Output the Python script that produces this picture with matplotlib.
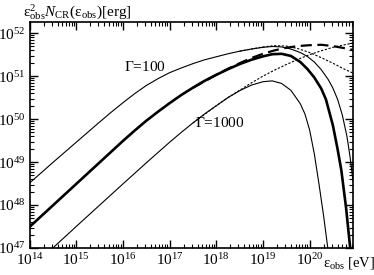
import numpy as np
import matplotlib
matplotlib.use("Agg")
import matplotlib.pyplot as plt
from matplotlib.ticker import LogLocator, NullFormatter

plt.rcParams['font.family'] = ['Liberation Serif', 'DejaVu Serif']
plt.rcParams['mathtext.fontset'] = 'custom'
plt.rcParams['mathtext.rm'] = 'Liberation Serif'
plt.rcParams['mathtext.it'] = 'Liberation Serif:italic'

# log10 of energy [eV] and log10 of eps^2 N [erg]
# Gamma=100, with cutoff (thin solid)
lx_g100 = [14.0, 14.5, 15.0, 15.5, 15.75, 16.0, 16.25, 16.5, 16.75, 17.0, 17.25, 17.5,
           17.75, 18.0, 18.25, 18.5, 18.75, 19.0, 19.2, 19.4, 19.6, 19.8, 19.95, 20.1,
           20.25, 20.4, 20.5, 20.6, 20.7, 20.8, 20.87, 20.93]
ly_g100 = [48.51, 48.99, 49.46, 49.93, 50.16, 50.38, 50.59, 50.78, 50.94, 51.08, 51.19, 51.29,
           51.38, 51.45, 51.52, 51.58, 51.63, 51.67, 51.69, 51.68, 51.63, 51.55, 51.46, 51.33,
           51.15, 50.92, 50.72, 50.46, 50.10, 49.60, 49.10, 48.55]
# middle case, with cutoff (thick solid)
lx_mid = [14.0, 15.0, 16.0, 16.25, 16.5, 16.75, 17.0, 17.25, 17.5, 17.75, 18.0, 18.25,
          18.5, 18.75, 19.0, 19.2, 19.4, 19.6, 19.8, 19.95, 20.1, 20.25, 20.35, 20.5,
          20.6, 20.68, 20.78, 20.87, 20.9]
ly_mid = [47.49, 48.49, 49.49, 49.73, 49.96, 50.17, 50.37, 50.56, 50.73, 50.89, 51.03, 51.16,
          51.28, 51.38, 51.46, 51.51, 51.52, 51.47, 51.33, 51.17, 50.97, 50.71, 50.46, 49.85,
          49.30, 48.81, 47.95, 47.00, 46.70]
# Gamma=1000, with cutoff (thin solid)
lx_g1000 = [14.0, 15.0, 16.0, 16.5, 17.0, 17.25, 17.5, 17.75, 18.0, 18.25, 18.5, 18.75,
            19.0, 19.2, 19.4, 19.6, 19.8, 19.9, 20.0, 20.1, 20.2, 20.3, 20.39, 20.45]
ly_g1000 = [46.50, 47.50, 48.49, 48.98, 49.46, 49.69, 49.91, 50.12, 50.31, 50.50, 50.66, 50.79,
            50.87, 50.89, 50.83, 50.67, 50.36, 50.12, 49.75, 49.20, 48.50, 47.75, 47.00, 46.45]
# without cutoff: Gamma=1000 (thin dotted), Gamma=100 (thin dotted), middle (thick dashed)
lx_g1000_nc = [17.5, 18.0, 18.25, 18.5, 18.75, 19.0, 19.25, 19.5, 19.75, 20.0, 20.25,
               20.5, 20.75, 20.93]
ly_g1000_nc = [49.91, 50.31, 50.50, 50.67, 50.84, 51.00, 51.14, 51.27, 51.39, 51.50, 51.59,
               51.67, 51.73, 51.77]
lx_g100_nc = [18.5, 18.75, 19.0, 19.25, 19.5, 19.75, 20.0, 20.25, 20.5, 20.75, 20.93]
ly_g100_nc = [51.58, 51.63, 51.68, 51.71, 51.70, 51.64, 51.55, 51.43, 51.30, 51.16, 51.07]
lx_mid_nc = [17.5, 18.0, 18.25, 18.5, 18.75, 19.0, 19.25, 19.5, 19.75, 20.0, 20.25, 20.5,
             20.75, 20.93]
ly_mid_nc = [50.73, 51.03, 51.17, 51.30, 51.42, 51.52, 51.60, 51.66, 51.70, 51.72, 51.73, 51.70,
             51.65, 51.61]


def pw(a):
    return 10.0 ** np.asarray(a)


fig = plt.figure(figsize=(3.74, 2.75), dpi=100)
ax = fig.add_axes([29.5 / 374, 27 / 275, (353 - 29.5) / 374, (248 - 22) / 275])

ax.plot(pw(lx_g100), pw(ly_g100), color='black', lw=0.8)
ax.plot(pw(lx_mid), pw(ly_mid), color='black', lw=1.9)
ax.plot(pw(lx_g1000), pw(ly_g1000), color='black', lw=0.8)
ax.plot(pw(lx_g1000_nc), pw(ly_g1000_nc), color='black', lw=0.8, dashes=(2, 1.5))
ax.plot(pw(lx_g100_nc), pw(ly_g100_nc), color='black', lw=0.8, dashes=(2, 1.5))
ax.plot(pw(lx_mid_nc), pw(ly_mid_nc), color='black', lw=1.6, dashes=(5, 2.5))

ax.set_xscale('log')
ax.set_yscale('log')
ax.set_xlim(1e14, 10 ** 20.93)
ax.set_ylim(1e47, 10 ** 52.26)

ax.xaxis.set_major_locator(LogLocator(base=10, numticks=20))
ax.yaxis.set_major_locator(LogLocator(base=10, numticks=20))
ax.xaxis.set_minor_locator(LogLocator(base=10, subs=np.arange(2, 10), numticks=20))
ax.yaxis.set_minor_locator(LogLocator(base=10, subs=np.arange(2, 10), numticks=20))
ax.xaxis.set_minor_formatter(NullFormatter())
ax.yaxis.set_minor_formatter(NullFormatter())
ax.tick_params(which='both', direction='in', top=True, right=True, labelsize=11, pad=3)
ax.tick_params(which='major', length=6, width=1.0)
ax.tick_params(which='minor', length=3, width=0.8)
for s in ax.spines.values():
    s.set_linewidth(1.2)

ax.text(10 ** 16.48, 10 ** 51.21, r'$\mathrm{\Gamma}$=100', fontsize=11, ha='center', va='center')
ax.text(10 ** 18.08, 10 ** 49.91, r'$\mathrm{\Gamma}$=1000', fontsize=11, ha='center', va='center')

fig.text(23 / 374, 1 - 12 / 275,
         r'$\mathrm{\varepsilon^2_{obs}}$$N_{\mathrm{CR}}$$\mathrm{(\varepsilon_{obs})[erg]}$',
         fontsize=11, ha='left', va='center')
fig.text(323 / 374, 1 - 263 / 275, r'$\mathrm{\varepsilon_{obs}}$ [eV]', fontsize=10.5,
         ha='left', va='center')

fig.savefig('out.png', dpi=100)
